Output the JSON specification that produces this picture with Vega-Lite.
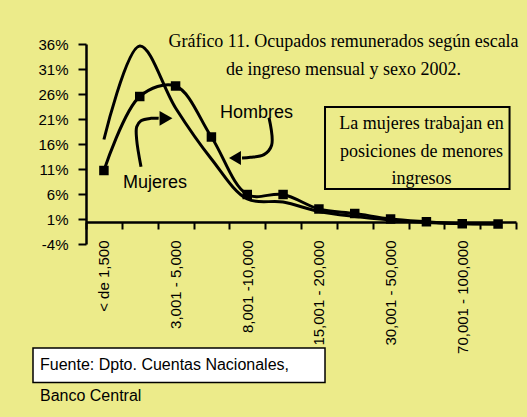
{
  "$schema": "https://vega.github.io/schema/vega-lite/v6.json",
  "width": 430,
  "height": 200,
  "autosize": {"type": "none"},
  "padding": {"left": 86, "top": 44, "right": 11, "bottom": 173},
  "background": "#ECEB8A",
  "config": {"view": {"stroke": null}, "font": "Liberation Sans", "axis": {"labelOverlap": false}},
  "datasets": {
    "series": [
      {"rango": "< de  1,500", "sexo": "Hombres", "pct": 0.107},
      {"rango": "1,501 - 3,000", "sexo": "Hombres", "pct": 0.255},
      {"rango": "3,001 - 5,000", "sexo": "Hombres", "pct": 0.276},
      {"rango": "5,001 - 8,000", "sexo": "Hombres", "pct": 0.174},
      {"rango": "8,001 -10,000", "sexo": "Hombres", "pct": 0.059},
      {"rango": "10,001 - 15,000", "sexo": "Hombres", "pct": 0.059},
      {"rango": "15,001 - 20,000", "sexo": "Hombres", "pct": 0.030},
      {"rango": "20,001 - 30,000", "sexo": "Hombres", "pct": 0.021},
      {"rango": "30,001 - 50,000", "sexo": "Hombres", "pct": 0.010},
      {"rango": "50,001 - 70,000", "sexo": "Hombres", "pct": 0.0045},
      {"rango": "70,001 - 100,000", "sexo": "Hombres", "pct": 0.0005},
      {"rango": "> 100,000", "sexo": "Hombres", "pct": 0.0},
      {"rango": "< de  1,500", "sexo": "Mujeres", "pct": 0.169},
      {"rango": "1,501 - 3,000", "sexo": "Mujeres", "pct": 0.356},
      {"rango": "3,001 - 5,000", "sexo": "Mujeres", "pct": 0.232},
      {"rango": "5,001 - 8,000", "sexo": "Mujeres", "pct": 0.130},
      {"rango": "8,001 -10,000", "sexo": "Mujeres", "pct": 0.050},
      {"rango": "10,001 - 15,000", "sexo": "Mujeres", "pct": 0.044},
      {"rango": "15,001 - 20,000", "sexo": "Mujeres", "pct": 0.025},
      {"rango": "20,001 - 30,000", "sexo": "Mujeres", "pct": 0.015},
      {"rango": "30,001 - 50,000", "sexo": "Mujeres", "pct": 0.008},
      {"rango": "50,001 - 70,000", "sexo": "Mujeres", "pct": 0.003},
      {"rango": "70,001 - 100,000", "sexo": "Mujeres", "pct": 0.001},
      {"rango": "> 100,000", "sexo": "Mujeres", "pct": 0.0}
    ],
    "arrows": [
      {"arrow": "Hombres", "k": 1, "ax": 5.607, "ay": 0.2128},
      {"arrow": "Hombres", "k": 2, "ax": 5.680, "ay": 0.1576},
      {"arrow": "Hombres", "k": 3, "ax": 5.465, "ay": 0.1388},
      {"arrow": "Hombres", "k": 4, "ax": 5.088, "ay": 0.1334},
      {"arrow": "Hombres", "k": 5, "ax": 4.854, "ay": 0.132},
      {"arrow": "Mujeres", "k": 1, "ax": 2.035, "ay": 0.1146},
      {"arrow": "Mujeres", "k": 2, "ax": 1.915, "ay": 0.168},
      {"arrow": "Mujeres", "k": 3, "ax": 1.915, "ay": 0.1946},
      {"arrow": "Mujeres", "k": 4, "ax": 2.035, "ay": 0.2066},
      {"arrow": "Mujeres", "k": 5, "ax": 2.314, "ay": 0.2114},
      {"arrow": "Mujeres", "k": 6, "ax": 2.529, "ay": 0.2114}
    ]
  },
  "layer": [
    {
      "data": {"name": "series"},
      "layer": [
        {
          "mark": {"type": "line", "interpolate": "catmull-rom", "color": "black", "strokeWidth": 3},
          "encoding": {
            "x": {
              "field": "rango", "type": "ordinal",
              "sort": ["< de  1,500", "1,501 - 3,000", "3,001 - 5,000", "5,001 - 8,000", "8,001 -10,000", "10,001 - 15,000", "15,001 - 20,000", "20,001 - 30,000", "30,001 - 50,000", "50,001 - 70,000", "70,001 - 100,000", "> 100,000"],
              "scale": {"type": "band", "paddingInner": 0, "paddingOuter": 0},
              "axis": {
                "orient": "bottom", "offset": -22, "title": null,
                "tickBand": "extent", "tickSize": 7, "tickWidth": 2, "tickColor": "black",
                "domainColor": "black", "domainWidth": 2.5,
                "labelAngle": 270, "labelPadding": 11, "labelFontSize": 15, "labelColor": "black",
                "labelFont": "Liberation Sans", "labelOverlap": false, "labelBound": false,
                "labelExpr": "indexof(['< de  1,500','3,001 - 5,000','8,001 -10,000','15,001 - 20,000','30,001 - 50,000','70,001 - 100,000'], datum.value) >= 0 ? datum.label : ''",
                "grid": false
              }
            },
            "y": {
              "field": "pct", "type": "quantitative",
              "scale": {"domain": [-0.04, 0.36], "nice": false, "zero": false},
              "axis": {
                "title": null, "grid": false,
                "values": [-0.04, 0.01, 0.06, 0.11, 0.16, 0.21, 0.26, 0.31, 0.36],
                "tickCount": 20,
                "labelExpr": "round(datum.value * 100) + '%'",
                "labelOverlap": false, "labelBound": false,
                "tickSize": 8, "tickWidth": 2, "tickColor": "black",
                "domainColor": "black", "domainWidth": 2.5,
                "labelPadding": 10, "labelFontSize": 15, "labelColor": "black",
                "labelFont": "Liberation Sans"
              }
            },
            "detail": {"field": "sexo"}
          }
        },
        {
          "transform": [{"filter": "datum.sexo === 'Hombres'"}],
          "mark": {"type": "point", "shape": "square", "filled": true, "size": 90, "color": "black", "opacity": 1},
          "encoding": {
            "x": {"field": "rango", "type": "ordinal", "sort": ["< de  1,500", "1,501 - 3,000", "3,001 - 5,000", "5,001 - 8,000", "8,001 -10,000", "10,001 - 15,000", "15,001 - 20,000", "20,001 - 30,000", "30,001 - 50,000", "50,001 - 70,000", "70,001 - 100,000", "> 100,000"]},
            "y": {"field": "pct", "type": "quantitative"}
          }
        }
      ]
    },
    {
      "layer": [
        {
          "data": {"name": "arrows"},
          "mark": {"type": "line", "interpolate": "catmull-rom", "color": "black", "strokeWidth": 3},
          "encoding": {
            "x": {"field": "ax", "type": "quantitative", "scale": {"domain": [0.5, 12.5], "nice": false, "zero": false}, "axis": null},
            "y": {"field": "ay", "type": "quantitative"},
            "detail": {"field": "arrow"},
            "order": {"field": "k"}
          }
        },
        {
          "data": {"values": [{}]},
          "mark": {"type": "point", "shape": "triangle-right", "filled": true, "size": 220, "color": "black", "opacity": 1},
          "encoding": {
            "x": {"datum": 2.733, "type": "quantitative", "scale": {"domain": [0.5, 12.5], "nice": false, "zero": false}, "axis": null},
            "y": {"datum": 0.2114, "type": "quantitative"}
          }
        },
        {
          "data": {"values": [{}]},
          "mark": {"type": "point", "shape": "triangle-left", "filled": true, "size": 190, "color": "black", "opacity": 1},
          "encoding": {
            "x": {"datum": 4.658, "type": "quantitative", "scale": {"domain": [0.5, 12.5], "nice": false, "zero": false}, "axis": null},
            "y": {"datum": 0.132, "type": "quantitative"}
          }
        },
        {
          "data": {"values": [{}]},
          "mark": {"type": "text", "font": "Liberation Serif", "fontSize": 18, "align": "center", "baseline": "alphabetic", "lineHeight": 28.3, "color": "black",
            "text": ["Gráfico 11. Ocupados remunerados según escala", "de ingreso mensual y sexo 2002."]},
          "encoding": {
            "x": {"datum": 7.686, "type": "quantitative", "scale": {"domain": [0.5, 12.5], "nice": false, "zero": false}, "axis": null},
            "y": {"datum": 0.3546, "type": "quantitative"}
          }
        },
        {
          "data": {"values": [{}]},
          "mark": {"type": "rect", "filled": false, "stroke": "black", "strokeWidth": 2},
          "encoding": {
            "x": {"datum": 7.17, "type": "quantitative", "scale": {"domain": [0.5, 12.5], "nice": false, "zero": false}, "axis": null},
            "x2": {"datum": 12.32},
            "y": {"datum": 0.234, "type": "quantitative"},
            "y2": {"datum": 0.070}
          }
        },
        {
          "data": {"values": [{}]},
          "mark": {"type": "text", "font": "Liberation Serif", "fontSize": 18, "align": "center", "baseline": "alphabetic", "lineHeight": 27.5, "color": "black",
            "text": ["La mujeres trabajan en", "posiciones de menores", "ingresos"]},
          "encoding": {
            "x": {"datum": 9.863, "type": "quantitative", "scale": {"domain": [0.5, 12.5], "nice": false, "zero": false}, "axis": null},
            "y": {"datum": 0.1894, "type": "quantitative"}
          }
        },
        {
          "data": {"values": [{}]},
          "mark": {"type": "text", "font": "Liberation Sans", "fontSize": 18, "align": "left", "baseline": "alphabetic", "color": "black", "text": "Hombres"},
          "encoding": {
            "x": {"datum": 4.24, "type": "quantitative", "scale": {"domain": [0.5, 12.5], "nice": false, "zero": false}, "axis": null},
            "y": {"datum": 0.2128, "type": "quantitative"}
          }
        },
        {
          "data": {"values": [{}]},
          "mark": {"type": "text", "font": "Liberation Sans", "fontSize": 18, "align": "left", "baseline": "alphabetic", "color": "black", "text": "Mujeres"},
          "encoding": {
            "x": {"datum": 1.53, "type": "quantitative", "scale": {"domain": [0.5, 12.5], "nice": false, "zero": false}, "axis": null},
            "y": {"datum": 0.072, "type": "quantitative"}
          }
        },
        {
          "data": {"values": [{}]},
          "mark": {"type": "rect", "fill": "white", "stroke": "black", "strokeWidth": 1.5},
          "encoding": {
            "x": {"datum": -0.979, "type": "quantitative", "scale": {"domain": [0.5, 12.5], "nice": false, "zero": false}, "axis": null},
            "x2": {"datum": 7.17},
            "y": {"datum": -0.248, "type": "quantitative"},
            "y2": {"datum": -0.317}
          }
        },
        {
          "data": {"values": [{}]},
          "mark": {"type": "text", "font": "Liberation Sans", "fontSize": 16, "align": "left", "baseline": "alphabetic", "lineHeight": 30.7, "color": "black",
            "text": ["Fuente: Dpto. Cuentas Nacionales,", "Banco Central"]},
          "encoding": {
            "x": {"datum": -0.784, "type": "quantitative", "scale": {"domain": [0.5, 12.5], "nice": false, "zero": false}, "axis": null},
            "y": {"datum": -0.292, "type": "quantitative"}
          }
        }
      ]
    }
  ],
  "resolve": {"scale": {"x": "independent"}, "axis": {"x": "independent"}}
}
